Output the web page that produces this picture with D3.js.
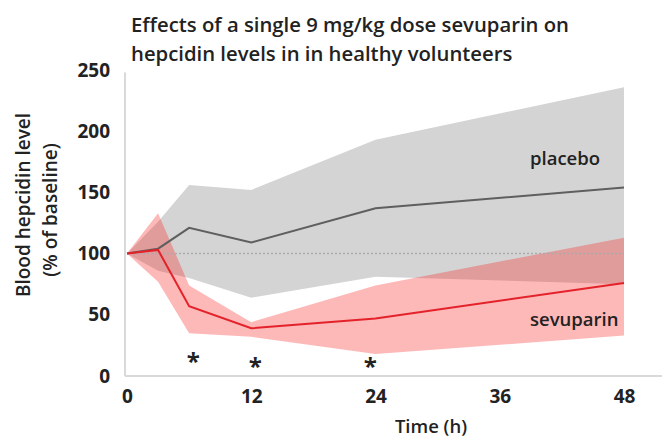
<!DOCTYPE html>
<html>
<head>
<meta charset="utf-8">
<script src="https://cdn.jsdelivr.net/npm/d3@7"></script>
<style>
  body { margin: 0; background: #fff; }
  text { font-family: "Open Sans", sans-serif; fill: #222; }
</style>
</head>
<body>
<script>
// hours after dose
const hours = [0, 3, 6, 12, 24, 48];

const placeboMean  = [100, 104, 121, 109, 137, 154];
const placeboUpper = [100, 126, 156, 152, 193, 236];
const placeboLower = [100, 86, 80, 64, 81, 75];

const sevuMean  = [100, 103, 57, 39, 47, 76];
const sevuUpper = [100, 133, 74, 44, 74, 113];
const sevuLower = [100, 77, 35, 32, 18, 33];

const starHours = [6.4, 12.4, 23.5];
const xTicks = [0, 12, 24, 36, 48];
const yTicks = [0, 50, 100, 150, 200, 250];

const W = 662, H = 441;

const x = d3.scaleLinear().domain([0, 48]).range([127, 624]);
const y = d3.scaleLinear().domain([0, 250]).range([376, 70]);

const svg = d3.select('body').append('svg')
  .attr('width', W)
  .attr('height', H);

// title
svg.append('text')
  .attr('x', 131).attr('y', 32)
  .attr('font-size', 20.3).attr('font-weight', 600)
  .text('Effects of a single 9 mg/kg dose sevuparin on');
svg.append('text')
  .attr('x', 131).attr('y', 61)
  .attr('font-size', 20.3).attr('font-weight', 600)
  .text('hepcidin levels in in healthy volunteers');

const rows = hours.map((h, i) => ({
  h,
  pm: placeboMean[i], pu: placeboUpper[i], pl: placeboLower[i],
  sm: sevuMean[i], su: sevuUpper[i], sl: sevuLower[i],
}));

// bands
svg.append('path')
  .datum(rows)
  .attr('fill', '#d4d4d4')
  .attr('d', d3.area().x(d => x(d.h)).y0(d => y(d.pl)).y1(d => y(d.pu)));

svg.append('path')
  .datum(rows)
  .attr('fill', 'rgb(250,40,40)')
  .attr('fill-opacity', 0.33)
  .attr('d', d3.area().x(d => x(d.h)).y0(d => y(d.sl)).y1(d => y(d.su)));

// baseline reference
svg.append('line')
  .attr('x1', x(0)).attr('x2', x(48))
  .attr('y1', y(100)).attr('y2', y(100))
  .attr('stroke', '#aaa')
  .attr('stroke-width', 1.5)
  .attr('stroke-dasharray', '2,2');

// axes
const yAxis = svg.append('g')
  .attr('transform', 'translate(125,0)')
  .call(d3.axisLeft(y).tickValues(yTicks).tickSize(0).tickPadding(15));
yAxis.select('.domain').attr('stroke', '#d9d9d9').attr('stroke-width', 2)
  .attr('d', `M0,${y(0)}V${y(248)}`);
yAxis.selectAll('text')
  .attr('font-size', 19).attr('font-weight', 700)
  .attr('font-family', '"Open Sans", sans-serif').attr('fill', '#222');

const xAxis = svg.append('g')
  .attr('transform', `translate(0,${y(0)})`)
  .call(d3.axisBottom(x).tickValues(xTicks).tickSize(0).tickPadding(14));
xAxis.select('.domain').attr('stroke', '#d9d9d9').attr('stroke-width', 2)
  .attr('d', `M125,0H662`);
xAxis.selectAll('text')
  .attr('font-size', 19).attr('font-weight', 700)
  .attr('font-family', '"Open Sans", sans-serif').attr('fill', '#222');

// lines
svg.append('path')
  .datum(rows)
  .attr('fill', 'none')
  .attr('stroke', '#5f5f5f')
  .attr('stroke-width', 2)
  .attr('d', d3.line().x(d => x(d.h)).y(d => y(d.pm)));

svg.append('path')
  .datum(rows)
  .attr('fill', 'none')
  .attr('stroke', '#e3222a')
  .attr('stroke-width', 2)
  .attr('d', d3.line().x(d => x(d.h)).y(d => y(d.sm)));

// significance stars
svg.selectAll('.star')
  .data(starHours)
  .enter().append('text')
  .attr('class', 'star')
  .attr('x', d => x(d))
  .attr('y', (d, i) => i === 0 ? 370 : 375)
  .attr('text-anchor', 'middle')
  .attr('font-size', 24).attr('font-weight', 700)
  .attr('fill', '#2a2a35')
  .text('*');

// series labels
svg.append('text')
  .attr('x', 530).attr('y', 165)
  .attr('font-size', 18.5).attr('font-weight', 600)
  .text('placebo');
svg.append('text')
  .attr('x', 530).attr('y', 326)
  .attr('font-size', 18.5).attr('font-weight', 600)
  .text('sevuparin');

// axis titles
svg.append('text')
  .attr('x', 431).attr('y', 433)
  .attr('text-anchor', 'middle')
  .attr('font-size', 18.5).attr('font-weight', 600)
  .text('Time (h)');

svg.append('text')
  .attr('transform', 'translate(30,205) rotate(-90)')
  .attr('text-anchor', 'middle')
  .attr('font-size', 19).attr('font-weight', 600)
  .text('Blood hepcidin level');
svg.append('text')
  .attr('transform', 'translate(57,210) rotate(-90)')
  .attr('text-anchor', 'middle')
  .attr('font-size', 19).attr('font-weight', 600)
  .text('(% of baseline)');
</script>
</body>
</html>
